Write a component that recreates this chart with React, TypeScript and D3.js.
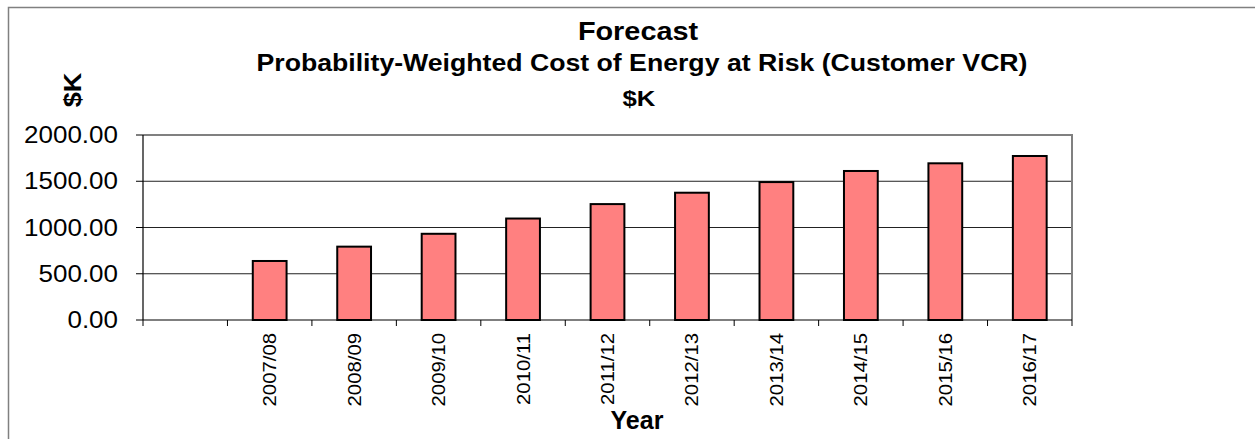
import * as React from "react";
import * as d3 from "d3";

const years = ["", "2007/08", "2008/09", "2009/10", "2010/11", "2011/12", "2012/13", "2013/14", "2014/15", "2015/16", "2016/17"];
const costs: (number | null)[] = [null, 638, 793, 932, 1097, 1253, 1376, 1491, 1611, 1694, 1773];
const yTicks = [0, 500, 1000, 1500, 2000];

const font = "Arial, 'Liberation Sans', sans-serif";

function drawChart(svgEl: SVGSVGElement) {
  const svg = d3.select(svgEl);
  svg.selectAll("*").remove();

  const left = 143, right = 1072, top = 135, bottom = 320;

  const x = d3.scaleBand<number>()
    .domain(d3.range(years.length))
    .range([left, right])
    .paddingInner(0.6)
    .paddingOuter(0.3);
  const y = d3.scaleLinear().domain([0, 2000]).range([bottom, top]);
  const step = x.step();

  // outer chart frame
  svg.append("rect")
    .attr("x", 8.5).attr("y", 7.5)
    .attr("width", 1400).attr("height", 600)
    .attr("fill", "white")
    .attr("stroke", "#808080").attr("stroke-width", 1.5);

  // titles
  const title = svg.append("g").attr("font-family", font).attr("font-weight", "bold").attr("text-anchor", "middle");
  title.append("text").attr("transform", "translate(638,39.5) scale(1.11,1)").attr("font-size", 26).text("Forecast");
  title.append("text").attr("x", 642).attr("y", 71).attr("font-size", 23)
    .attr("textLength", 771).attr("lengthAdjust", "spacingAndGlyphs")
    .text("Probability-Weighted Cost of Energy at Risk (Customer VCR)");
  title.append("text").attr("transform", "translate(639,105.5) scale(1.12,1)").attr("font-size", 23).text("$K");

  // y axis title
  svg.append("text")
    .attr("transform", "translate(81,90) rotate(-90) scale(1.13,1)")
    .attr("text-anchor", "middle")
    .attr("font-family", font).attr("font-weight", "bold").attr("font-size", 24)
    .text("$K");

  // gridlines
  svg.append("g").selectAll("line")
    .data(yTicks.filter(d => d > 0 && d < 2000))
    .join("line")
    .attr("x1", left).attr("x2", right)
    .attr("y1", d => y(d)).attr("y2", d => y(d))
    .attr("stroke", "#222").attr("stroke-width", 1);

  // plot border (top / right)
  svg.append("path")
    .attr("d", `M${left},${top}H${right}V${bottom}`)
    .attr("fill", "none").attr("stroke", "#808080").attr("stroke-width", 2);

  // bars
  svg.append("g").selectAll("rect")
    .data(costs.map((v, i) => ({ v, i })).filter(d => d.v != null))
    .join("rect")
    .attr("x", d => x(d.i)!)
    .attr("y", d => y(d.v as number))
    .attr("width", x.bandwidth())
    .attr("height", d => bottom - y(d.v as number))
    .attr("fill", "#FF8080")
    .attr("stroke", "black").attr("stroke-width", 2);

  // y axis
  const ya = svg.append("g");
  ya.append("line").attr("x1", left).attr("x2", left).attr("y1", top).attr("y2", bottom)
    .attr("stroke", "black").attr("stroke-width", 1.2);
  ya.selectAll("line.tick").data(yTicks).join("line").attr("class", "tick")
    .attr("x1", left - 7).attr("x2", left).attr("y1", d => y(d)).attr("y2", d => y(d))
    .attr("stroke", "black");
  ya.selectAll("text").data(yTicks).join("text")
    .attr("transform", d => `translate(118,${y(d) + 8}) scale(1.13,1)`)
    .attr("text-anchor", "end")
    .attr("font-family", font).attr("font-size", 23)
    .text(d => d3.format(".2f")(d));

  // x axis: ticks sit on the category boundaries
  const xa = svg.append("g");
  xa.append("line").attr("x1", left).attr("x2", right).attr("y1", bottom).attr("y2", bottom)
    .attr("stroke", "black").attr("stroke-width", 1.2);
  const bounds = d3.range(years.length + 1).map(i =>
    i < years.length ? x(i)! + x.bandwidth() / 2 - step / 2 : right);
  xa.selectAll("line.tick").data(bounds).join("line").attr("class", "tick")
    .attr("x1", d => d).attr("x2", d => d).attr("y1", bottom).attr("y2", bottom + 6)
    .attr("stroke", "black");
  xa.selectAll("text").data(years).join("text")
    .attr("transform", (d, i) => `translate(${x(i)! + x.bandwidth() / 2 + 6.5},333) rotate(-90) scale(1.13,1)`)
    .attr("text-anchor", "end")
    .attr("font-family", font).attr("font-size", 18)
    .text(d => d);

  svg.append("text")
    .attr("x", 637).attr("y", 429)
    .attr("text-anchor", "middle")
    .attr("font-family", font).attr("font-weight", "bold").attr("font-size", 25)
    .text("Year");
}

const App = () => {
  const ref = React.useRef<SVGSVGElement>(null);
  React.useEffect(() => {
    if (ref.current) drawChart(ref.current);
  }, []);
  return (
    <svg ref={ref} width={1255} height={439}
      style={{ position: "absolute", left: 0, top: 0, display: "block", background: "white" }} />
  );
};

export default App;
